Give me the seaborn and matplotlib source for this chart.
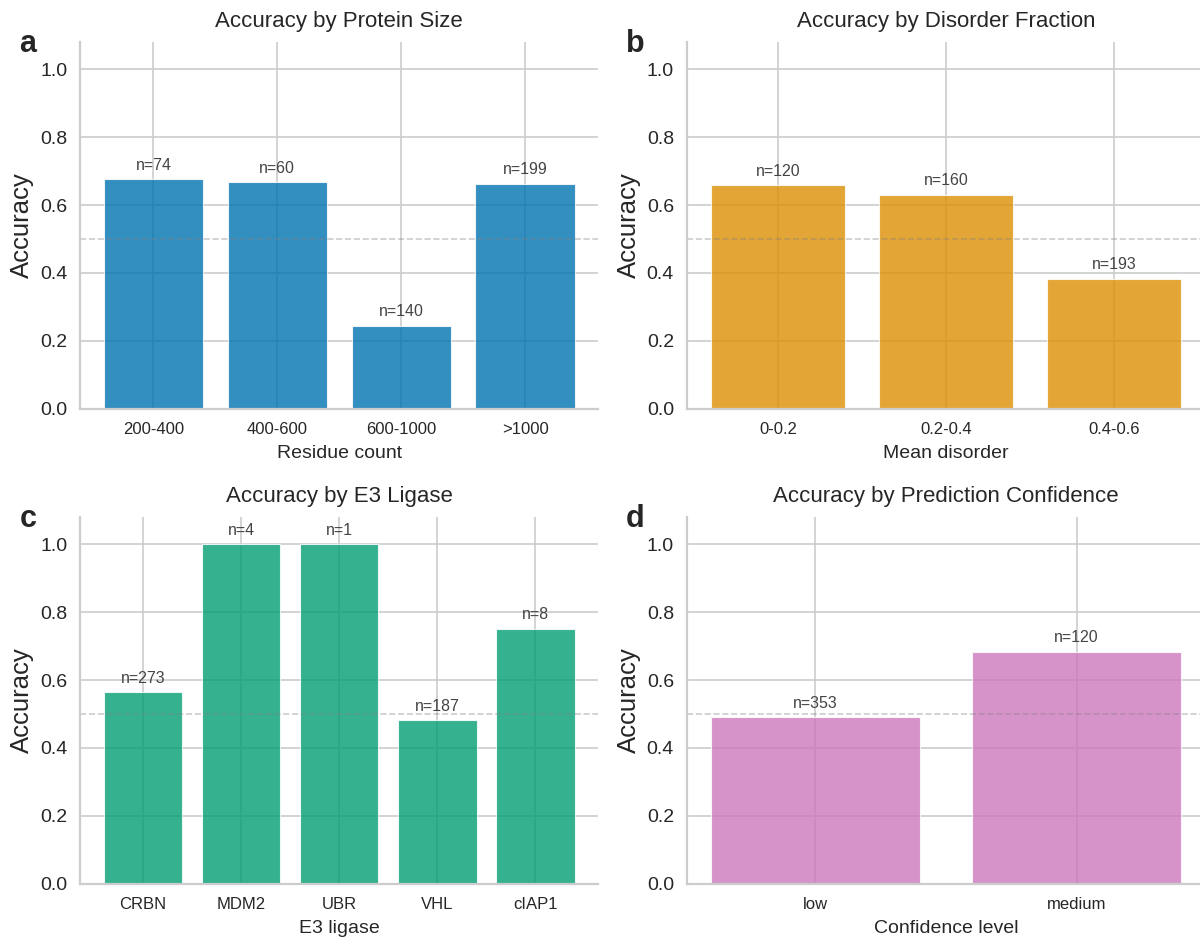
"""
Accuracy breakdown of degradation predictions across four groupings.
"""

import matplotlib

matplotlib.use("Agg")

import matplotlib.pyplot as plt
import pandas as pd
import seaborn as sns


SIZE_BINS = ["200-400", "400-600", "600-1000", ">1000"]
SIZE_ACC = [0.676, 0.667, 0.243, 0.663]
SIZE_N = [74, 60, 140, 199]

DISORDER_BINS = ["0-0.2", "0.2-0.4", "0.4-0.6"]
DISORDER_ACC = [0.658, 0.631, 0.383]
DISORDER_N = [120, 160, 193]

E3_NAMES = ["CRBN", "MDM2", "UBR", "VHL", "cIAP1"]
E3_ACC = [0.564, 1.0, 1.0, 0.481, 0.75]
E3_N = [273, 4, 1, 187, 8]

CONF_LEVELS = ["low", "medium"]
CONF_ACC = [0.490, 0.683]
CONF_N = [353, 120]

PANELS = [
    ("a", "Accuracy by Protein Size", "Residue count", SIZE_BINS, SIZE_ACC, SIZE_N),
    ("b", "Accuracy by Disorder Fraction", "Mean disorder", DISORDER_BINS, DISORDER_ACC, DISORDER_N),
    ("c", "Accuracy by E3 Ligase", "E3 ligase", E3_NAMES, E3_ACC, E3_N),
    ("d", "Accuracy by Prediction Confidence", "Confidence level", CONF_LEVELS, CONF_ACC, CONF_N),
]


def draw_panel(ax, letter, title, xlabel, cats, acc, counts, color) -> None:
    """Barplot of accuracy per group with sample sizes above the bars."""
    df = pd.DataFrame({"group": cats, "acc": acc})
    sns.barplot(
        data=df, x="group", y="acc", ax=ax, color=color,
        saturation=1, alpha=0.8, width=0.8, linewidth=0.8,
    )
    n = len(cats)
    pad = 0.05 * (n - 0.2)
    ax.set_xlim(-0.4 - pad, n - 0.6 + pad)
    ax.set_ylim(0, 1.08)
    ax.xaxis.grid(True)
    ax.grid(linewidth=1.2)
    ax.axhline(0.5, color="gray", linestyle="--", linewidth=1.2, alpha=0.4)

    for i, (val, cnt) in enumerate(zip(acc, counts)):
        ax.text(i, val + 0.02, f"n={cnt}", ha="center", va="bottom",
                fontsize=11.5, color="#444444")

    ax.set_title(title, fontsize=16, pad=11)
    ax.set_xlabel(xlabel, fontsize=14, labelpad=6)
    ax.set_ylabel("Accuracy", fontsize=18.5)
    ax.tick_params(axis="x", labelsize=12)
    ax.tick_params(axis="y", labelsize=14)
    ax.text(-0.118, 0.973, letter, transform=ax.transAxes, fontsize=22,
            fontweight="bold", ha="left", va="baseline")
    sns.despine(ax=ax)
    for side in ("left", "bottom"):
        ax.spines[side].set_linewidth(1.6)


def main() -> None:
    sns.set_theme(style="whitegrid")
    plt.rcParams["font.family"] = ["Liberation Sans", "DejaVu Sans"]

    palette = sns.color_palette("colorblind")
    colors = [palette[0], palette[1], palette[2], palette[4]]
    fig, axes = plt.subplots(2, 2, figsize=(12, 9.41), dpi=100)
    fig.subplots_adjust(left=0.067, right=1.004, bottom=0.061, top=0.955,
                        wspace=0.172, hspace=0.297)

    for ax, panel, color in zip(axes.flat, PANELS, colors):
        draw_panel(ax, *panel, color)

    fig.savefig("out.png", dpi=100)
    plt.close(fig)


if __name__ == "__main__":
    main()
